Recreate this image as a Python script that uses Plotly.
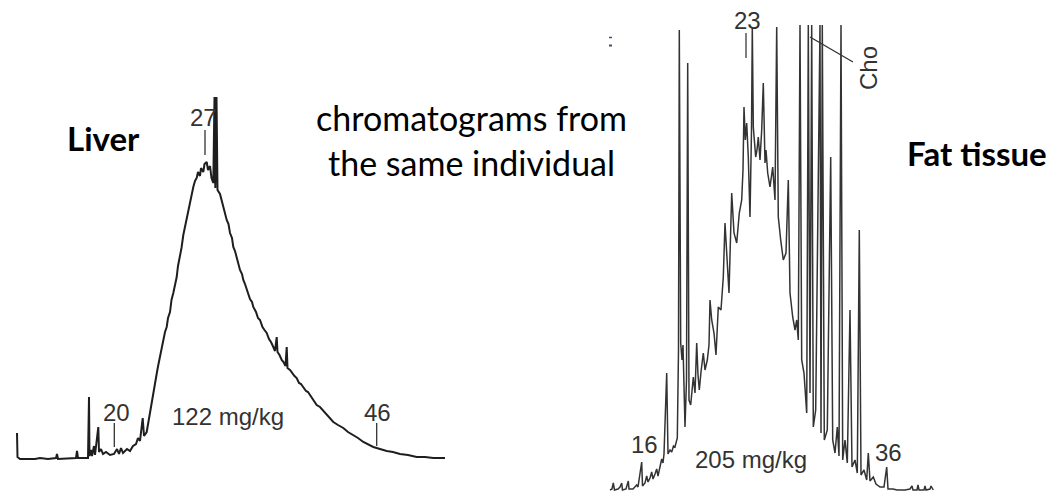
import plotly.graph_objects as go

W, H = 1055, 498

# ---------------- Liver chromatogram (retention scan, detector signal) ----------------
liver_t = [0, 0.5, 3, 18, 23, 31, 39, 40, 41, 53, 59, 60, 61, 71, 72, 72.5, 74, 75, 77, 78,
           81.3, 82, 84, 86, 89, 93, 97, 100, 102, 104, 106, 110, 113, 116, 119, 121, 123,
           125.7, 127, 129.7, 131, 132.3, 134.7, 136, 138, 140, 141.3, 143, 145, 146.3, 148,
           149.7, 151, 153, 154.5, 156.3, 158, 159.7, 161, 163, 164.5, 166.3, 168, 169.7, 171,
           173, 174.5, 176.3, 178, 179.7, 181, 183, 184, 186.3, 187.5, 189.7, 191, 193, 194.5,
           196.3, 197.5, 198.3, 199.5, 200.5, 203, 204.5, 206.3, 208, 209.7, 211.5, 213, 215,
           216.3, 218, 219.7, 221.3, 223, 225, 226.3, 228, 229.7, 231.3, 233, 235, 236.3, 239,
           241, 243, 245.5, 247.5, 249.7, 252, 254, 256.3, 258, 259.7, 260.5, 262.5, 264.7,
           266.5, 268.5, 269.7, 270.5, 273, 275.5, 277.5, 279.7, 282, 284, 286.3, 289, 291, 293,
           296, 299.7, 303, 308, 312, 316.3, 321, 326.3, 331, 336.3, 341, 346.3, 351, 356.3,
           363, 369.7, 376, 383, 391, 399.7, 408, 416.3, 428]
liver_s = [26, 2, 0, 0, 1, 0, 1, 5, 0, 1, 1, 8, 1, 1, 62, 3, 9, 3, 13, 4,
           32, 7, 10, 5, 7, 4, 5, 10, 5, 11, 6, 10, 8, 13, 15, 21, 18,
           41, 23, 27, 35, 44, 59, 67, 77, 87, 94, 103, 113, 117, 127,
           132, 141, 147, 159, 166, 175, 182, 193, 202, 211, 224, 232, 242, 247,
           259, 263, 272, 278, 281, 287, 283, 291, 287, 295, 297, 289, 293, 281,
           276, 362, 271, 362, 269, 265, 259, 253, 247, 239, 235, 226, 221,
           212, 208, 201, 196, 189, 185, 179, 175, 169, 166, 160, 157, 152, 147,
           141, 139, 132, 129, 126, 120, 117, 112, 108, 122, 107, 104, 99,
           97, 93, 112, 91, 89, 85, 83, 81, 76, 75, 72, 68, 67, 64,
           60, 54, 52, 46, 42, 37, 34, 31, 27, 24, 21, 17, 15, 12,
           10, 8, 7, 5, 4, 2, 2, 1, 1]

liver_labels = ["20", "27", "46"]
liver_label_t = [99, 186, 360]
liver_label_s = [47, 342, 47]
liver_mark_t = [97.3, 188, 359.7]
liver_mark_lo = [12, 304, 13]
liver_mark_hi = [36, 329, 36]
liver_conc = "122 mg/kg"

# ---------------- Fat tissue chromatogram ----------------
fat_t = [0, 2, 3.3, 4.5, 8, 10, 11.7, 12.5, 16, 18.3, 19, 23, 26.7, 28, 31.7, 32.5, 35, 36.7,
         38, 40, 41.7, 43, 45, 46.7, 48, 50, 51.7, 53, 54, 56.7, 58, 60, 61.7, 63.5, 65, 67.3,
         68.5, 69.3, 70, 70.7, 72, 73, 75, 76.5, 77.7, 78.5, 79, 80.7, 82, 83.3, 85, 86.7, 88,
         89.3, 91, 91.7, 93.3, 95, 97.3, 99, 100, 101.7, 104, 106, 108.3, 111, 113.3, 115,
         116.7, 119, 121.7, 124, 126.7, 128, 129.3, 131.7, 133, 134, 135.3, 136.7, 138.3, 140,
         141.5, 142.3, 143.3, 145.7, 147, 148.3, 150, 151.7, 153.3, 155, 156, 157.7, 160,
         162.7, 165, 166.7, 168.3, 170.7, 173.3, 176, 178.3, 180, 182.7, 185, 186.7, 188.3,
         190, 191.7, 194, 196.7, 198.3, 200, 201.7, 203.3, 205.7, 210, 211, 212.3, 214.3,
         217.3, 220.7, 222.7, 225, 227.3, 229, 231, 232.7, 235, 237.3, 240, 242, 245, 247.3,
         249.3, 251, 254, 256.7, 258.3, 260, 263.3, 266, 270, 274, 276.7, 278, 283, 287, 295,
         300, 302, 303, 307, 308, 309, 314, 315, 316, 320, 321, 323.3]
fat_s = [1, 2, 8, 1, 2, 4, 8, 1, 2, 10, 2, 2, 6, 4, 29, 5, 8, 15,
         9, 13, 19, 12, 17, 22, 15, 23, 32, 28, 37, 118, 37, 41, 39, 45, 44, 53,
         141, 461, 161, 148, 131, 146, 64, 111, 428, 291, 91, 86, 101, 114, 98, 148, 116,
         101, 119, 124, 138, 121, 131, 146, 191, 171, 158, 136, 184, 181, 214, 268,
         238, 198, 298, 258, 248, 263, 278, 291, 321, 384, 351, 368, 334, 274,
         361, 464, 364, 334, 341, 354, 331, 361, 408, 328, 341, 318, 304,
         324, 291, 464, 274, 251, 231, 238, 311, 198, 174, 161, 171, 151,
         466, 131, 118, 78, 466, 98, 466, 64, 81, 466, 58, 466, 51,
         61, 334, 51, 38, 64, 35, 466, 31, 51, 28, 181, 24, 31, 18,
         261, 16, 21, 11, 38, 10, 14, 7, 4, 4, 24, 2, 2, 1, 1,
         2, 5, 1, 1, 6, 1, 1, 5, 1, 2, 5, 1]

fat_labels = ["16", "23", "36"]
fat_label_t = [34, 137.5, 278]
fat_label_s = [47, 471, 39]
fat_mark_t = [136]
fat_mark_lo = [433]
fat_mark_hi = [458]
fat_conc = "205 mg/kg"

# ---------------- figure ----------------
NUM_FONT = dict(family="Liberation Sans, Arial, sans-serif", size=24, color="#333333")
HEAD_FONT = "Lato, Noto Sans, sans-serif"

fig = go.Figure()
fig.add_trace(go.Scatter(x=liver_t, y=liver_s, mode="lines", xaxis="x", yaxis="y",
                         line=dict(color="#1e1e1e", width=2.0), hoverinfo="skip"))
fig.add_trace(go.Scatter(x=fat_t, y=fat_s, mode="lines", xaxis="x2", yaxis="y2",
                         line=dict(color="#333333", width=1.5), hoverinfo="skip"))

# label marker ticks
for t, lo, hi in zip(liver_mark_t, liver_mark_lo, liver_mark_hi):
    fig.add_trace(go.Scatter(x=[t, t], y=[lo, hi], mode="lines", xaxis="x", yaxis="y",
                             line=dict(color="#333333", width=1.3), hoverinfo="skip"))
for t, lo, hi in zip(fat_mark_t, fat_mark_lo, fat_mark_hi):
    fig.add_trace(go.Scatter(x=[t, t], y=[lo, hi], mode="lines", xaxis="x2", yaxis="y2",
                             line=dict(color="#555555", width=1.5), hoverinfo="skip"))

ann = []
for lab, t, s in zip(liver_labels, liver_label_t, liver_label_s):
    ann.append(dict(text=lab, x=t, y=s, xref="x", yref="y", showarrow=False,
                    xanchor="center", yanchor="middle", font=NUM_FONT))
ann.append(dict(text=liver_conc, x=211, y=43, xref="x", yref="y", showarrow=False,
                xanchor="center", yanchor="middle", font=NUM_FONT))
for lab, t, s in zip(fat_labels, fat_label_t, fat_label_s):
    ann.append(dict(text=lab, x=t, y=s, xref="x2", yref="y2", showarrow=False,
                    xanchor="center", yanchor="middle", font=NUM_FONT))
ann.append(dict(text=fat_conc, x=140.5, y=32, xref="x2", yref="y2", showarrow=False,
                xanchor="center", yanchor="middle", font=NUM_FONT))
ann.append(dict(text="Cho", x=258, y=423, xref="x2", yref="y2", showarrow=False,
                textangle=-90, xanchor="center", yanchor="middle", font=NUM_FONT))

# headline texts (paper coords from pixel positions)
def px(x):
    return x / W

def py(y):
    return 1 - y / H

ann.append(dict(text="<b>Liver</b>", x=px(103), y=py(138), xref="paper", yref="paper",
                showarrow=False, xanchor="center", yanchor="middle",
                font=dict(family=HEAD_FONT, size=33, color="#000000")))
ann.append(dict(text="<b>Fat tissue</b>", x=px(977), y=py(153), xref="paper", yref="paper",
                showarrow=False, xanchor="center", yanchor="middle",
                font=dict(family=HEAD_FONT, size=33, color="#000000")))
ann.append(dict(text="chromatograms from", x=px(471), y=py(117), xref="paper", yref="paper",
                showarrow=False, xanchor="center", yanchor="middle",
                font=dict(family=HEAD_FONT, size=34, color="#000000")))
ann.append(dict(text="the same individual", x=px(471), y=py(162), xref="paper", yref="paper",
                showarrow=False, xanchor="center", yanchor="middle",
                font=dict(family=HEAD_FONT, size=34, color="#000000")))

shapes = [
    # Cho leader line
    dict(type="line", xref="x2", yref="y2", x0=200, y0=454, x1=243, y1=429,
         line=dict(color="#333333", width=1.3)),
    # small colon-like mark
    dict(type="line", xref="paper", yref="paper", x0=px(609), y0=py(37.5), x1=px(612), y1=py(37.5),
         line=dict(color="#445066", width=1.5)),
    dict(type="line", xref="paper", yref="paper", x0=px(609), y0=py(45.5), x1=px(612), y1=py(45.5),
         line=dict(color="#445066", width=2)),
]

axis_off = dict(visible=False, showgrid=False, zeroline=False, fixedrange=True)
fig.update_layout(
    width=W, height=H,
    margin=dict(l=0, r=0, t=0, b=0),
    paper_bgcolor="white", plot_bgcolor="white",
    showlegend=False,
    xaxis=dict(domain=[0, 0.5], range=[-17, 510.5], **axis_off),
    yaxis=dict(domain=[0, 1], range=[-39, 459], **axis_off),
    xaxis2=dict(domain=[0.5, 1], range=[-82.5, 445], anchor="y2", **axis_off),
    yaxis2=dict(domain=[0, 1], range=[-7, 491], anchor="x2", **axis_off),
    annotations=ann,
    shapes=shapes,
)

fig.write_html("out.html")
